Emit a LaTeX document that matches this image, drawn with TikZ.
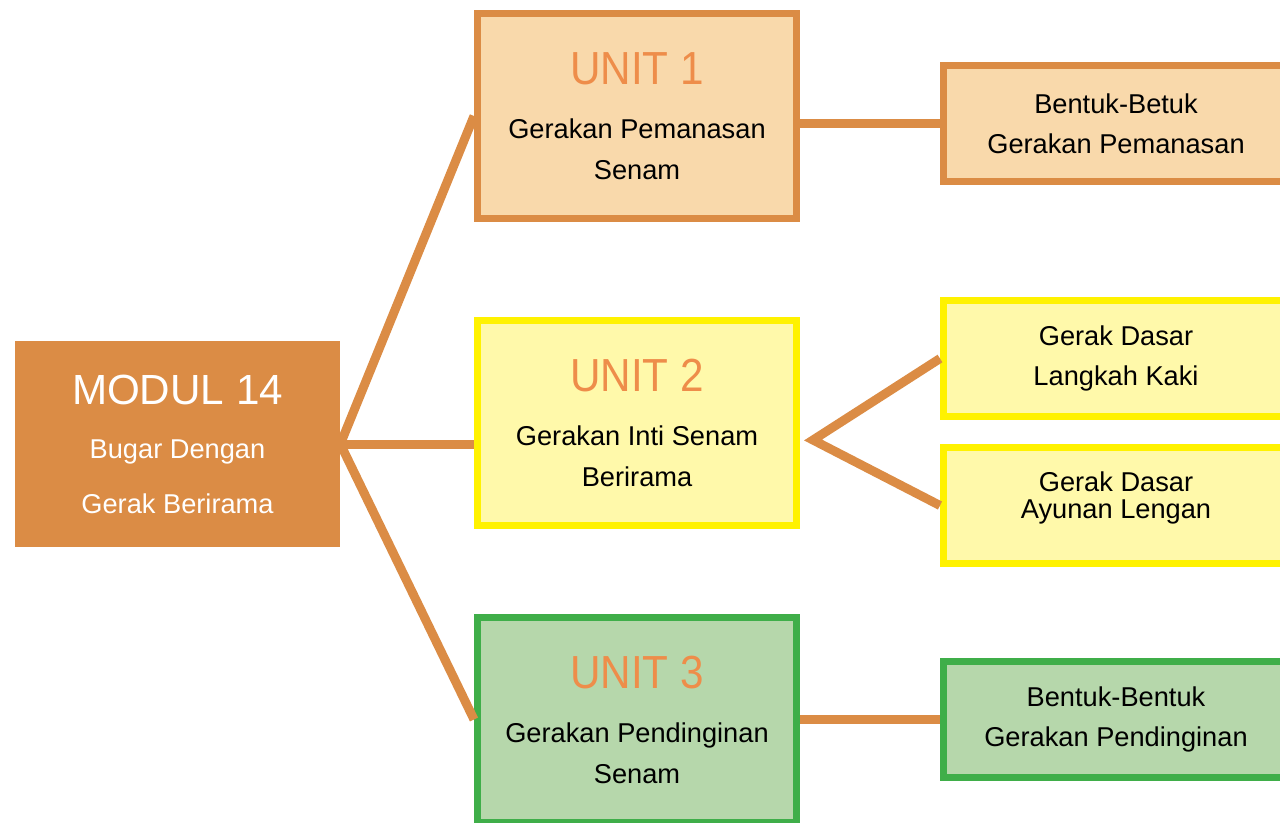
\documentclass[tikz,border=0pt]{standalone}
\usepackage{fontspec}
\setmainfont{Liberation Sans}
\newfontfamily\narrowfont[FakeStretch=0.91]{Liberation Sans}
\usetikzlibrary{positioning}
\definecolor{oranye}{HTML}{DB8C45}
\definecolor{peach}{HTML}{F9D9AB}
\definecolor{unitorange}{HTML}{EE8D4A}
\definecolor{kuning}{HTML}{FFF200}
\definecolor{kuningmuda}{HTML}{FFF9AA}
\definecolor{hijau}{HTML}{3FAE49}
\definecolor{hijaumuda}{HTML}{B6D7AB}
\tikzset{
    box/.style={rectangle, line width=0.14cm, align=center, font=\fontsize{15.5}{23}\selectfont}, % look shared by all framed boxes
    unitbox/.style={box, minimum width=6.38cm, minimum height=4.1cm},
    subbox/.style={box, minimum width=6.9cm, minimum height=2.32cm},
    modulbox/.style={rectangle, fill=oranye, text=white, align=center,
        minimum width=6.5cm, minimum height=4.12cm, font=\fontsize{15.5}{31}\selectfont},
    link/.style={draw=oranye, line width=0.18cm}, % connecting lines
}
\newcommand{\unittitle}[1]{{\color{unitorange}\narrowfont\fontsize{26.4}{26.4}\selectfont #1}\\[8pt]}

\begin{document}
\begin{tikzpicture}
  \useasboundingbox (0,0) rectangle (25.6,-16.44);
  \clip (0,0) rectangle (25.6,-16.44);

  % module and units
  \node[modulbox] (modul) at (3.55,-8.88) {{\fontsize{24}{24}\selectfont MODUL 14}\\Bugar Dengan\\Gerak Berirama};
  \node[unitbox, draw=oranye, fill=peach] (unit1) at (12.74,-2.32) {\unittitle{UNIT 1}Gerakan Pemanasan\\Senam};
  \node[unitbox, draw=kuning, fill=kuningmuda] (unit2) at (12.74,-8.45) {\unittitle{UNIT 2}Gerakan Inti Senam\\Berirama};
  \node[unitbox, draw=hijau, fill=hijaumuda] (unit3) at (12.74,-14.39) {\unittitle{UNIT 3}Gerakan Pendinginan\\Senam};

  % sub topics
  \node[subbox, draw=oranye, fill=peach] (bentuk1) at (22.32,-2.47) {Bentuk-Betuk\\Gerakan Pemanasan};
  \node[subbox, draw=kuning, fill=kuningmuda] (langkah) at (22.32,-7.17) {Gerak Dasar\\Langkah Kaki};
  \node[subbox, draw=kuning, fill=kuningmuda, text depth=12pt] (ayunan) [below=0.48cm of langkah] {Gerak Dasar\\[-8pt]Ayunan Lengan};
  \node[subbox, draw=hijau, fill=hijaumuda] (bentuk3) at (22.32,-14.39) {Bentuk-Bentuk\\Gerakan Pendinginan};

  \coordinate (fork) at (16.26,-8.8);

  \path[link]
    (modul.east) edge (unit1.west)
    (modul.east) edge (modul.east -| unit2.west)
    (modul.east) edge (unit3.west)
    (unit1.east |- bentuk1.west) edge (bentuk1.west)
    (unit3.east |- bentuk3.west) edge (bentuk3.west);
  \draw[link] (langkah.west) -- (fork) -- (ayunan.west);
\end{tikzpicture}
\end{document}
